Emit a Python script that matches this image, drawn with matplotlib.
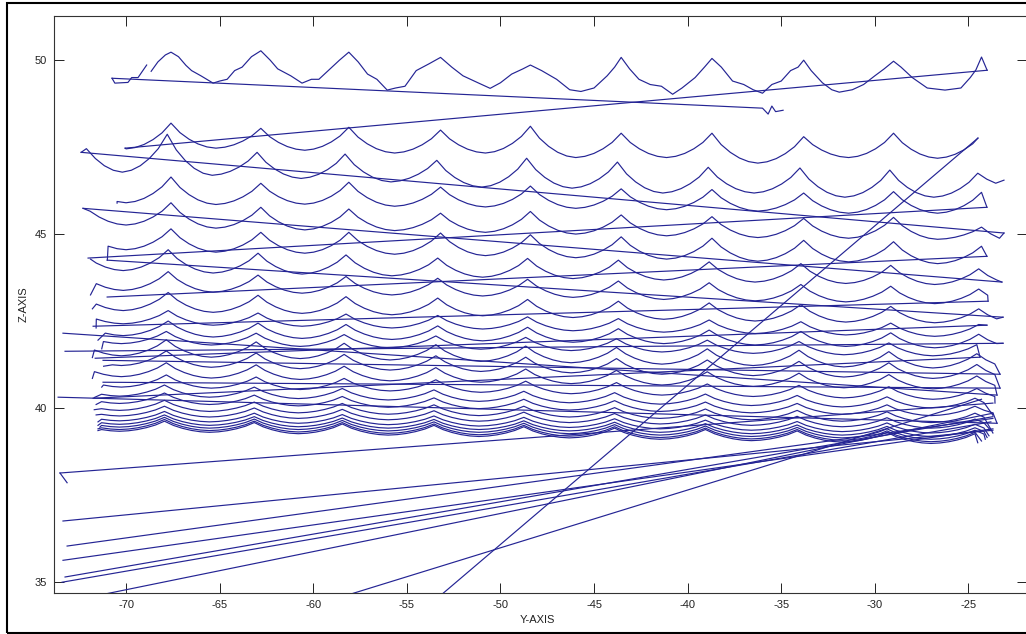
import matplotlib
matplotlib.use("Agg")
import matplotlib.pyplot as plt
from matplotlib.patches import Rectangle

# ---------------- data ----------------
# nominal peak positions (Y) of the scallop profile, shifted per scan line
PEAK_Y = [-67.6, -62.8, -58.1, -53.2, -48.4, -43.55, -38.7, -33.8, -29.0, -24.3]
PERIOD = 4.8
# digitised shape of one scallop between two cusps (fraction of period, fraction of height)
CYCLE_F = [0.1, 0.2, 0.3, 0.4, 0.5, 0.6, 0.7, 0.8, 0.9]
CYCLE_H = [0.62, 0.36, 0.17, 0.05, 0.0, 0.05, 0.17, 0.36, 0.62]

# top scan line (irregular) digitised directly
TOP_Y = [-70.75, -70.6, -69.9, -69.7, -69.36, -68.9]
TOP_Z = [49.48, 49.34, 49.36, 49.5, 49.5, 49.86]
TOP2_Y = [-68.66, -68.3, -67.9, -67.6, -67.2, -66.8, -66.5, -66.0, -65.35, -65.0, -64.6, -64.2,
          -63.8, -63.3, -62.8, -62.3, -61.9, -61.2, -60.6, -60.1, -59.7, -59.2, -58.6, -58.1,
          -57.6, -57.1, -56.6, -56.05, -55.6, -55.1, -54.5, -53.8, -53.2, -52.6, -52.0, -51.2,
          -50.55, -50.0, -49.4, -48.8, -48.4, -47.8, -47.0, -46.3, -45.7, -45.0, -44.3, -43.9,
          -43.55, -43.1, -42.6, -42.0, -41.4, -40.8, -40.3, -39.6, -39.1, -38.7, -38.2, -37.6,
          -37.0, -36.5, -36.0, -35.5, -35.0, -34.5, -34.1, -33.8, -33.4, -32.8, -32.3, -31.9,
          -31.2, -30.6, -30.0, -29.5, -29.0, -28.6, -28.0, -27.2, -26.25, -25.4, -24.9, -24.6,
          -24.3, -24.0]
TOP2_Z = [49.68, 49.95, 50.15, 50.23, 50.1, 49.85, 49.7, 49.55, 49.34, 49.4, 49.45, 49.7,
          49.8, 50.1, 50.27, 50.0, 49.75, 49.55, 49.34, 49.45, 49.45, 49.7, 50.0, 50.23,
          49.95, 49.6, 49.45, 49.14, 49.2, 49.25, 49.7, 49.9, 50.08, 49.8, 49.55, 49.35,
          49.19, 49.35, 49.6, 49.75, 49.86, 49.7, 49.45, 49.15, 49.1, 49.2, 49.55, 49.8,
          50.08, 49.75, 49.45, 49.3, 49.25, 49.02, 49.2, 49.5, 49.8, 50.05, 49.8, 49.4,
          49.3, 49.15, 49.05, 49.3, 49.4, 49.7, 49.8, 50.0, 49.7, 49.35, 49.15, 49.08,
          49.15, 49.3, 49.55, 49.75, 49.97, 49.8, 49.5, 49.2, 49.14, 49.2, 49.5, 49.72,
          50.09, 49.71]
TAIL_Y = [-70.75, -36.0, -35.7, -35.5, -35.3, -34.9]
TAIL_Z = [49.48, 48.62, 48.45, 48.68, 48.52, 48.56]

# scallop scan lines: shift of the peaks, start point, end point, trough and peak heights
PROF_SHIFT = [0.0, -0.2, 0.0, 0.0, 0.0, -0.15, -0.15, -0.15, -0.15, -0.15,
              -0.25, -0.25, -0.25, -0.25, -0.25, -0.35, -0.35, -0.35, -0.35, -0.35,
              -0.35, -0.35, -0.35, -0.35]
PROF_Y0 = [-70.05, -72.4, -70.48, -72.3, -71.0, -71.9, -71.9, -71.8, -71.6, -71.5,
           -71.3, -71.8, -71.2, -71.8, -71.3, -71.7, -71.6, -71.7, -71.6, -71.5,
           -71.5, -71.4, -71.5, -71.5]
PROF_Z0 = [47.47, 47.35, 45.89, 45.74, 44.25, 44.28, 43.25, 42.85, 42.3, 41.95,
           41.7, 41.45, 41.2, 40.85, 40.6, 40.3, 40.1, 39.95, 39.8, 39.6,
           39.5, 39.45, 39.4, 39.35]
PROF_Y1 = [-24.49, -23.1, -24.01, -23.1, -24.01, -23.21, -23.95, -23.15, -24.01, -23.15,
           -24.38, -23.31, -23.31, -23.47, -23.58, -23.69, -23.47, -23.69, -23.8, -23.9,
           -24.0, -24.1, -24.3, -24.5]
PROF_Z1 = [47.76, 46.55, 45.77, 45.03, 44.36, 43.62, 43.07, 42.61, 42.38, 41.86,
           41.46, 40.97, 40.57, 40.37, 40.14, 39.79, 39.56, 39.28, 39.35, 39.2,
           39.15, 39.1, 39.05, 39.0]
PROF_TROUGH = [
    [47.45, 47.47, 47.41, 47.33, 47.33, 47.20, 47.20, 47.04, 47.20, 47.18, 47.20],
    [46.78, 46.69, 46.60, 46.50, 46.35, 46.32, 46.18, 46.18, 46.06, 46.06, 46.30],
    [45.90, 45.85, 45.86, 45.80, 45.78, 45.74, 45.70, 45.66, 45.60, 45.60, 45.62],
    [45.26, 45.17, 45.12, 45.10, 45.05, 45.00, 44.95, 44.90, 44.88, 44.85, 44.70],
    [44.55, 44.48, 44.45, 44.42, 44.38, 44.32, 44.28, 44.22, 44.20, 44.15, 44.10],
    [43.95, 43.88, 43.85, 43.80, 43.76, 43.72, 43.68, 43.62, 43.58, 43.55, 43.50],
    [43.38, 43.33, 43.30, 43.25, 43.22, 43.18, 43.12, 43.08, 43.05, 43.00, 42.95],
    [42.80, 42.75, 42.72, 42.68, 42.65, 42.60, 42.55, 42.50, 42.47, 42.45, 42.40],
    [42.42, 42.38, 42.35, 42.30, 42.27, 42.22, 42.18, 42.14, 42.10, 42.06, 42.00],
    [42.08, 42.04, 42.00, 41.97, 41.93, 41.89, 41.85, 41.81, 41.77, 41.73, 41.70],
    [41.85, 41.81, 41.77, 41.73, 41.69, 41.65, 41.61, 41.57, 41.53, 41.50, 41.45],
    [41.50, 41.46, 41.42, 41.38, 41.34, 41.30, 41.26, 41.22, 41.18, 41.15, 41.10],
    [41.22, 41.17, 41.13, 41.09, 41.05, 41.01, 40.97, 40.93, 40.89, 40.85, 40.80],
    [40.90, 40.86, 40.82, 40.78, 40.74, 40.70, 40.66, 40.62, 40.58, 40.55, 40.50],
    [40.60, 40.57, 40.53, 40.49, 40.45, 40.41, 40.37, 40.33, 40.29, 40.25, 40.20],
    [40.34, 40.31, 40.27, 40.23, 40.19, 40.15, 40.11, 40.07, 40.03, 40.00, 39.95],
    [40.13, 40.10, 40.06, 40.02, 39.98, 39.94, 39.90, 39.86, 39.82, 39.78, 39.75],
    [39.93, 39.90, 39.86, 39.82, 39.78, 39.74, 39.70, 39.66, 39.62, 39.58, 39.55],
    [39.77, 39.74, 39.70, 39.66, 39.62, 39.58, 39.54, 39.50, 39.46, 39.42, 39.40],
    [39.63, 39.60, 39.56, 39.52, 39.48, 39.44, 39.40, 39.36, 39.32, 39.28, 39.25],
    [39.53, 39.50, 39.46, 39.42, 39.38, 39.34, 39.30, 39.26, 39.22, 39.18, 39.15],
    [39.45, 39.42, 39.38, 39.34, 39.30, 39.26, 39.22, 39.18, 39.14, 39.10, 39.07],
    [39.38, 39.35, 39.31, 39.27, 39.23, 39.19, 39.15, 39.11, 39.07, 39.03, 39.00],
    [39.33, 39.30, 39.26, 39.22, 39.18, 39.14, 39.10, 39.06, 39.02, 38.98, 38.95],
]
PROF_PEAK = [
    [48.19, 48.04, 48.07, 47.99, 48.10, 47.90, 47.90, 47.80, 47.90, 47.85],
    [47.87, 47.35, 47.30, 47.12, 47.18, 47.07, 46.92, 46.90, 46.84, 46.75],
    [46.64, 46.46, 46.49, 46.35, 46.38, 46.30, 46.28, 46.18, 46.22, 46.20],
    [45.90, 45.77, 45.72, 45.60, 45.65, 45.55, 45.50, 45.45, 45.48, 45.20],
    [45.15, 45.05, 45.05, 45.03, 44.98, 44.92, 44.88, 44.82, 44.78, 44.65],
    [44.55, 44.45, 44.40, 44.31, 44.30, 44.25, 44.20, 44.15, 44.10, 44.00],
    [43.92, 43.82, 43.78, 43.73, 43.70, 43.65, 43.60, 43.55, 43.50, 43.42],
    [43.32, 43.24, 43.20, 43.16, 43.12, 43.07, 43.02, 42.97, 42.92, 42.85],
    [42.80, 42.73, 42.70, 42.66, 42.62, 42.57, 42.53, 42.48, 42.44, 42.40],
    [42.50, 42.44, 42.40, 42.36, 42.32, 42.28, 42.24, 42.20, 42.16, 42.12],
    [42.20, 42.15, 42.11, 42.07, 42.03, 41.99, 41.95, 41.91, 41.87, 41.82],
    [41.96, 41.90, 41.86, 41.82, 41.78, 41.74, 41.70, 41.66, 41.62, 41.56],
    [41.64, 41.58, 41.54, 41.50, 41.46, 41.42, 41.38, 41.34, 41.30, 41.25],
    [41.30, 41.24, 41.20, 41.16, 41.12, 41.08, 41.04, 41.00, 40.96, 40.92],
    [40.95, 40.89, 40.85, 40.81, 40.77, 40.73, 40.69, 40.65, 40.61, 40.56],
    [40.66, 40.60, 40.56, 40.52, 40.48, 40.44, 40.40, 40.36, 40.32, 40.28],
    [40.43, 40.37, 40.33, 40.29, 40.25, 40.21, 40.17, 40.13, 40.09, 40.05],
    [40.22, 40.17, 40.13, 40.09, 40.05, 40.01, 39.97, 39.93, 39.89, 39.85],
    [40.05, 40.00, 39.96, 39.92, 39.88, 39.84, 39.80, 39.76, 39.72, 39.68],
    [39.90, 39.85, 39.81, 39.77, 39.73, 39.69, 39.65, 39.61, 39.57, 39.53],
    [39.80, 39.75, 39.71, 39.67, 39.63, 39.59, 39.55, 39.51, 39.47, 39.43],
    [39.73, 39.68, 39.64, 39.60, 39.56, 39.52, 39.48, 39.44, 39.40, 39.36],
    [39.67, 39.62, 39.58, 39.54, 39.50, 39.46, 39.42, 39.38, 39.34, 39.30],
    [39.62, 39.58, 39.54, 39.50, 39.46, 39.42, 39.38, 39.34, 39.30, 39.26],
]

# straight return strokes of the scanner (start Y, start Z, end Y, end Z)
JUMP_Y0 = [-24.0, -23.10, -23.21, -24.01, -24.01, -23.95, -23.15, -23.15, -73.37, -71.23,
           -71.23, -73.63, -24.01, -24.38, -73.53, -73.53, -73.37, -73.15, -73.37, -73.26,
           -73.42, -72.5, -59.5, -24.49]
JUMP_Z0 = [49.71, 45.03, 43.62, 45.77, 44.36, 43.07, 42.61, 41.86, 42.15, 41.37,
           40.74, 40.31, 42.38, 41.46, 38.13, 38.13, 36.75, 36.03, 35.62, 35.14,
           34.99, 34.5, 34.4, 47.76]
JUMP_Y1 = [-70.05, -72.40, -72.30, -72.03, -71.01, -71.76, -71.01, -73.26, -23.47, -23.31,
           -23.31, -23.47, -71.65, -71.76, -73.15, -23.69, -23.69, -23.69, -23.69, -23.69,
           -23.8, -23.69, -24.3, -54.53]
JUMP_Z1 = [47.47, 47.35, 45.74, 44.31, 43.19, 42.35, 44.25, 41.63, 40.37, 40.97,
           40.57, 39.56, 41.43, 40.28, 37.85, 40.14, 39.36, 39.70, 39.40, 39.75,
           39.6, 39.85, 40.25, 34.0]

XTICKS = [-70, -65, -60, -55, -50, -45, -40, -35, -30, -25]
YTICKS = [35, 40, 45, 50]
LINE_COLOR = (0.14, 0.14, 0.58)


def profile_points(i):
    s = PROF_SHIFT[i]
    px = [p + s for p in PEAK_Y]
    pk = PROF_PEAK[i]
    tr = PROF_TROUGH[i]
    ext_x = [px[0] - PERIOD] + px + [px[-1] + PERIOD]
    ext_z = [pk[0]] + pk + [pk[-1]]
    xs, zs = [], []
    for c in range(len(ext_x) - 1):
        xa, xb = ext_x[c], ext_x[c + 1]
        if c > 0:
            xs.append(xa)
            zs.append(ext_z[c])
        for f, h in zip(CYCLE_F, CYCLE_H):
            top = ext_z[c] if f < 0.5 else ext_z[c + 1]
            xs.append(xa + f * (xb - xa))
            zs.append(tr[c] + (top - tr[c]) * h)
    x0, x1 = PROF_Y0[i], PROF_Y1[i]
    keep = [(x, z) for x, z in zip(xs, zs) if x0 < x < x1]
    X = [x0] + [k[0] for k in keep] + [x1]
    Z = [PROF_Z0[i]] + [k[1] for k in keep] + [PROF_Z1[i]]
    return X, Z


W, H = 1026, 634
fig = plt.figure(figsize=(W / 100, H / 100), dpi=100)
fig.patch.set_facecolor("white")
ax = fig.add_axes([54 / W, (H - 593) / H, (1027 - 54) / W, (593 - 16) / H])

lw = 0.85
ax.plot(TOP_Y, TOP_Z, color=LINE_COLOR, lw=lw)
ax.plot(TOP2_Y, TOP2_Z, color=LINE_COLOR, lw=lw)
ax.plot(TAIL_Y, TAIL_Z, color=LINE_COLOR, lw=lw)
for i in range(len(PROF_SHIFT)):
    X, Z = profile_points(i)
    ax.plot(X, Z, color=LINE_COLOR, lw=lw)
for y0, z0, y1, z1 in zip(JUMP_Y0, JUMP_Z0, JUMP_Y1, JUMP_Z1):
    ax.plot([y0, y1], [z0, z1], color=LINE_COLOR, lw=lw)

ax.set_xlim(-73.85, -21.87)
ax.set_ylim(34.68, 51.27)
ax.set_xticks(XTICKS)
ax.set_yticks(YTICKS)
ax.set_xticklabels([str(t) for t in XTICKS])
ax.set_yticklabels([str(t) for t in YTICKS])
ax.tick_params(direction="in", length=7, width=0.7, top=True, right=True,
               labelsize=8, colors="#222222", pad=5)
for sp in ax.spines.values():
    sp.set_linewidth(0.8)
    sp.set_color("#333333")
for lab in ax.get_xticklabels() + ax.get_yticklabels():
    lab.set_family("Liberation Sans")
ax.set_xlabel("Y-AXIS", fontsize=8, family="Liberation Sans", color="#222222")
ax.set_ylabel("Z-AXIS", fontsize=8, family="Liberation Sans", color="#222222")
ax.xaxis.set_label_coords(0.497, -0.038)
ax.yaxis.set_label_coords(-0.026, 0.5)

fig.patches.append(Rectangle((6.5 / W, 1.5 / H), (1035 - 6.5) / W, (631.5 - 1.5) / H,
                             transform=fig.transFigure, fill=False, lw=1.5,
                             edgecolor="black"))
fig.savefig("out.png", dpi=100, facecolor="white")
